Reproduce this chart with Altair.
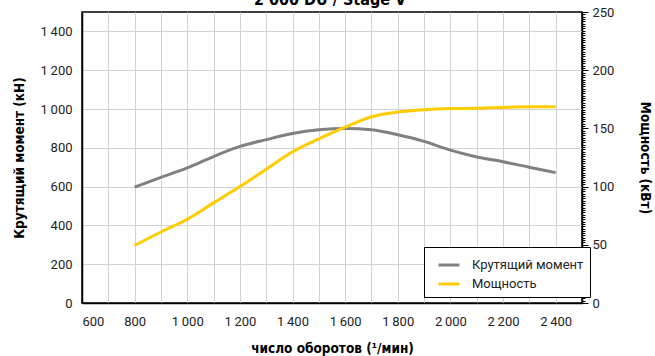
import altair as alt
import pandas as pd

# Engine speed (rpm) and the two curves measured at each step
rpm = [800, 900, 1000, 1100, 1200, 1300, 1400, 1500, 1600, 1700,
       1800, 1900, 2000, 2100, 2200, 2300, 2400]
torque = [597, 648, 697, 755, 807, 842, 874, 893, 900, 893,
          867, 833, 788, 753, 728, 700, 672]
power = [49.5, 61, 72, 86, 100, 115, 130, 141, 151, 160,
         164, 166, 167, 167.3, 168, 168.5, 168.5]

series_names = ["Крутящий момент", "Мощность"]
series_colors = ["#808080", "#FFCC00"]
chart_title = "2 000 DU / Stage V"

LABEL_FONT = "Roboto, sans-serif"
TITLE_FONT = "DejaVu Sans Condensed, Roboto, sans-serif"
THIN = "\u2009"
fmt_thousands = f"replace(format(datum.value, ','), ',', '{THIN}')"

df_t = pd.DataFrame({"rpm": rpm, "value": torque, "series": series_names[0]})
df_p = pd.DataFrame({"rpm": rpm, "value": power, "series": series_names[1]})

x_enc = alt.X(
    "rpm:Q",
    scale=alt.Scale(domain=[600, 2500], nice=False, zero=False),
    axis=alt.Axis(
        values=list(range(600, 2501, 100)),
        labelExpr=f"datum.value % 200 == 0 && datum.value < 2500 ? {fmt_thousands} : ''",
        title="число оборотов (¹/мин)",
        grid=True,
        ticks=False,
        labelPadding=12,
        titlePadding=13,
        labelOverlap=False,
    ),
)

color_enc = alt.Color(
    "series:N",
    scale=alt.Scale(domain=series_names, range=series_colors),
    legend=alt.Legend(
        title=None,
        orient="none",
        legendX=342,
        legendY=235,
        symbolType="stroke",
        symbolSize=441,
        symbolStrokeWidth=3,
        labelFont=LABEL_FONT,
        labelFontSize=13,
        labelColor="#222222",
        padding=6,
        rowPadding=0,
        symbolOffset=7,
        labelOffset=11,
        strokeColor="black",
        fillColor="white",
        cornerRadius=0,
    ),
)

torque_line = alt.Chart(df_t).mark_line(strokeWidth=3, interpolate="monotone").encode(
    x=x_enc,
    y=alt.Y(
        "value:Q",
        scale=alt.Scale(domain=[0, 1500], nice=False),
        axis=alt.Axis(
            orient="left",
            values=list(range(0, 1401, 200)),
            labelExpr=fmt_thousands,
            title="Крутящий момент (кН)",
            grid=True,
            ticks=False,
            labelPadding=10,
            titlePadding=14,
        ),
    ),
    color=color_enc,
)

power_line = alt.Chart(df_p).mark_line(strokeWidth=3, interpolate="monotone").encode(
    x=x_enc,
    y=alt.Y(
        "value:Q",
        scale=alt.Scale(domain=[0, 250], nice=False),
        axis=alt.Axis(
            orient="right",
            values=list(range(0, 251, 2)),
            labelExpr="datum.value % 50 == 0 ? datum.label : ''",
            labelOverlap=False,
            title="Мощность (кВт)",
            grid=False,
            ticks=True,
            tickColor="black",
            tickWidth=1,
            tickSize={"condition": {"test": "datum.value % 50 == 0", "value": 6}, "value": 3},
            labelPadding=4,
            titlePadding=24,
        ),
    ),
    color=color_enc,
)

title_text = alt.Chart(pd.DataFrame({"t": [chart_title]})).mark_text(
    font=TITLE_FONT, fontSize=16, fontWeight="bold", color="black",
    baseline="alphabetic", align="center",
).encode(text="t:N", x=alt.value(248), y=alt.value(-7))

chart = (
    alt.layer(torque_line, power_line, title_text)
    .resolve_scale(y="independent")
    .properties(
        width=500,
        height=291,
        padding={"left": 82, "top": 12, "right": 73, "bottom": 53},
        autosize=alt.AutoSizeParams(type="none"),
    )
    .configure_view(stroke="black", strokeWidth=1.5)
    .configure_axis(
        labelFont=LABEL_FONT,
        labelFontSize=13,
        labelColor="#222222",
        titleFont=TITLE_FONT,
        titleFontSize=13.5,
        titleFontWeight="bold",
        titleColor="black",
        domainColor="black",
        domainWidth=1.5,
        gridColor="#d2d2d2",
        gridWidth=1,
    )
)

chart.save("out.html", embed_options={"renderer": "svg", "actions": False})
